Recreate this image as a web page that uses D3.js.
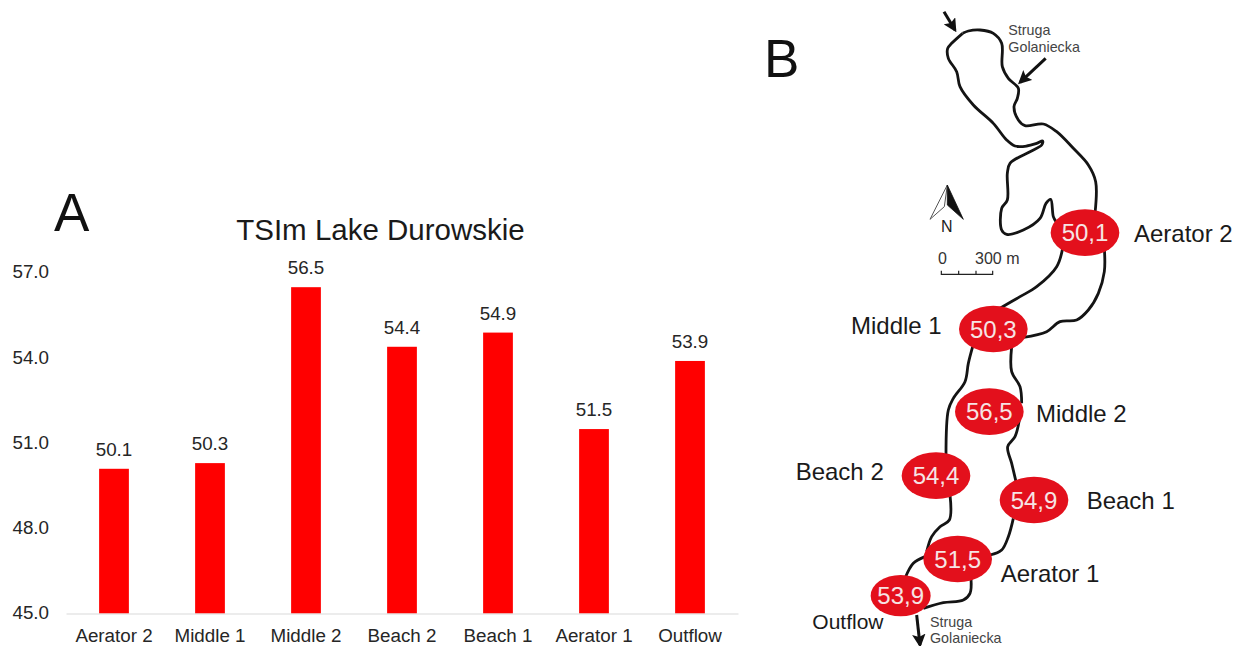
<!DOCTYPE html>
<html>
<head>
<meta charset="utf-8">
<script src="https://cdn.jsdelivr.net/npm/d3@7"></script>
<style>
  html, body { margin: 0; padding: 0; background: #fff; }
  svg { display: block; }
  text { font-family: "Liberation Sans", Arial, sans-serif; }
</style>
</head>
<body>
<div id="chart"></div>
<script>
// chart values
var categories = ["Aerator 2", "Middle 1", "Middle 2", "Beach 2", "Beach 1", "Aerator 1", "Outflow"];
var tsiValues = [50.1, 50.3, 56.5, 54.4, 54.9, 51.5, 53.9];
var yTicks = [45, 48, 51, 54, 57];

// map of the lake, traced in a grid of 1/3 px
var shoreNorth = [[608,100],[575,130],[563,145],[565,175],[590,215],[600,260],[640,315],[700,370],[740,420],[765,438],[800,438],[830,430],[848,423],[845,435],[810,455],[750,490],[742,520],[742,600],[725,625],[725,690],[740,703],[790,690],[840,655],[858,610],[872,598],[880,650],[888,665]];
var shoreEast = [[608,100],[625,93],[660,90],[700,100],[725,130],[727,200],[745,235],[775,265],[772,295],[762,320],[775,360],[795,377],[850,372],[890,395],[940,445],[985,495],[1007,545],[1005,640]];
var shoreMidRight = [[1033,745],[1033,815],[1015,880],[985,930],[950,960],[900,965],[860,995],[790,1012]];
var shoreMidLeft = [[908,745],[890,800],[830,860],[780,890],[720,925]];
var shoreWest1 = [[638,1040],[625,1090],[615,1145],[580,1195],[565,1230],[558,1365]];
var shoreEast1 = [[755,1040],[755,1115],[780,1160],[785,1210]];
var shoreEast2 = [[778,1260],[765,1310],[743,1340],[755,1390],[768,1445]];
var shoreWest2 = [[570,1485],[568,1560],[540,1580],[515,1610],[500,1655]];
var shoreWest3 = [[495,1670],[460,1690],[435,1735]];
var shoreEast3 = [[760,1555],[745,1610],[725,1650],[690,1665]];
var shoreSouth = [[633,1735],[630,1780],[610,1800],[550,1808],[490,1825]];
var shores = [shoreNorth, shoreEast, shoreMidRight, shoreMidLeft, shoreWest1, shoreEast1, shoreEast2, shoreWest2, shoreWest3, shoreEast3, shoreSouth];

var stationNames = ["Aerator 2", "Middle 1", "Middle 2", "Beach 2", "Beach 1", "Aerator 1", "Outflow"];
var stationLabels = ["50,1", "50,3", "56,5", "54,4", "54,9", "51,5", "53,9"];
var stationX = [975, 700, 688, 528, 822, 593, 422];
var stationY = [698, 987, 1235, 1427, 1500, 1677, 1787];
var stationRx = [103, 103, 103, 103, 103, 103, 90];
var stationRy = [70, 70, 70, 70, 70, 70, 62];
var nameX = [1122, 273, 828, 107, 980, 722, 157];
var nameY = [725, 1003, 1265, 1440, 1528, 1745, 1888];

var width = 1239, height = 646;
var svg = d3.select("#chart").append("svg")
    .attr("width", width)
    .attr("height", height);

// panel letters
svg.append("text").attr("x", 54).attr("y", 231).attr("font-size", 53).attr("fill", "#111").text("A");
svg.append("text").attr("x", 764).attr("y", 77).attr("font-size", 53).attr("fill", "#111").text("B");

// bar chart
function makeBarChart(){
    var x = d3.scaleBand()
        .domain(categories)
        .range([66, 738])
        .paddingInner(0.69)
        .paddingOuter(0.345);

    var y = d3.scaleLinear()
        .domain([45, 57])
        .range([613.5, 273]);

    svg.append("text")
        .attr("x", 380.5)
        .attr("y", 240)
        .attr("text-anchor", "middle")
        .attr("font-size", 29.5)
        .attr("fill", "#1a1a1a")
        .text("TSIm Lake Durowskie");

    var yAxis = svg.append("g")
        .attr("transform", "translate(66,0)")
        .call(d3.axisLeft(y).tickValues(yTicks).tickSize(0).tickPadding(17).tickFormat(d3.format(".1f")));
    yAxis.select(".domain").remove();
    yAxis.selectAll("text").attr("font-size", 18.8).attr("fill", "#262626").attr("dy", "0.26em");

    svg.selectAll("rect.bar")
        .data(tsiValues)
        .enter()
        .append("rect")
        .attr("class", "bar")
        .attr("x", function(d, i){ return x(categories[i]); })
        .attr("y", function(d){ return y(d); })
        .attr("width", x.bandwidth())
        .attr("height", function(d){ return y(45) - y(d); })
        .attr("fill", "#ff0000");

    var xAxis = svg.append("g")
        .attr("transform", "translate(0,613.5)")
        .call(d3.axisBottom(x).tickSize(0).tickPadding(15));
    xAxis.select(".domain").attr("stroke", "#d9d9d9").attr("stroke-width", 1.2);
    xAxis.selectAll("text").attr("font-size", 18.8).attr("fill", "#262626");

    svg.selectAll("text.value")
        .data(tsiValues)
        .enter()
        .append("text")
        .attr("class", "value")
        .attr("x", function(d, i){ return x(categories[i]) + x.bandwidth() / 2; })
        .attr("y", function(d){ return y(d) - 13; })
        .attr("text-anchor", "middle")
        .attr("font-size", 18.8)
        .attr("fill", "#262626")
        .text(function(d){ return d.toFixed(1); });
}

// lake map
function makeMap(){
    var mx = d3.scaleLinear().domain([0, 1437]).range([760, 1239]);
    var my = d3.scaleLinear().domain([0, 1938]).range([0, 646]);

    var line = d3.line()
        .x(function(d){ return mx(d[0]); })
        .y(function(d){ return my(d[1]); })
        .curve(d3.curveCatmullRom.alpha(0.5));

    svg.selectAll("path.shore")
        .data(shores)
        .enter()
        .append("path")
        .attr("class", "shore")
        .attr("d", line)
        .attr("fill", "none")
        .attr("stroke", "#141414")
        .attr("stroke-width", 2.8)
        .attr("stroke-linejoin", "round");

    // inflow and outflow arrows
    var defs = svg.append("defs");
    defs.append("marker")
        .attr("id", "head")
        .attr("viewBox", "0 0 10 10")
        .attr("refX", 8)
        .attr("refY", 5)
        .attr("markerWidth", 4.5)
        .attr("markerHeight", 4.5)
        .attr("orient", "auto")
        .append("path")
        .attr("d", "M0,0L10,5L0,10L2,5Z")
        .attr("fill", "#111");

    var arrows = [[[552,35],[585,90]], [[857,175],[780,247]], [[470,1845],[480,1935]]];
    svg.selectAll("line.arrow")
        .data(arrows)
        .enter()
        .append("line")
        .attr("class", "arrow")
        .attr("x1", function(d){ return mx(d[0][0]); })
        .attr("y1", function(d){ return my(d[0][1]); })
        .attr("x2", function(d){ return mx(d[1][0]); })
        .attr("y2", function(d){ return my(d[1][1]); })
        .attr("stroke", "#111")
        .attr("stroke-width", 3)
        .attr("marker-end", "url(#head)");

    // north arrow
    var northLeft = [[562,555],[510,658],[553,620]];
    var northRight = [[562,555],[610,658],[562,615]];
    var poly = d3.line()
        .x(function(d){ return mx(d[0]); })
        .y(function(d){ return my(d[1]); });
    svg.append("path").attr("d", poly(northLeft) + "Z").attr("fill", "#fff").attr("stroke", "#555").attr("stroke-width", 1);
    svg.append("path").attr("d", poly(northRight) + "Z").attr("fill", "#111").attr("stroke", "#111").attr("stroke-width", 0.8);
    svg.append("text").attr("x", mx(560)).attr("y", my(695)).attr("text-anchor", "middle")
        .attr("font-size", 16).attr("fill", "#222").text("N");

    // scale bar
    var scaleBar = [[544,812],[544,823],[596,823],[596,812],[596,823],[648,823],[648,812],[648,823],[698,823],[698,812]];
    svg.append("path").attr("d", poly(scaleBar)).attr("fill", "none").attr("stroke", "#222").attr("stroke-width", 1.2);
    svg.append("text").attr("x", mx(547)).attr("y", my(792)).attr("text-anchor", "middle")
        .attr("font-size", 16).attr("fill", "#333").text("0");
    svg.append("text").attr("x", mx(645)).attr("y", my(792))
        .attr("font-size", 16).attr("fill", "#333").text("300 m");

    // river names
    var riverX = [745, 745, 510, 510];
    var riverY = [105, 157, 1880, 1930];
    var riverText = ["Struga", "Golaniecka", "Struga", "Golaniecka"];
    svg.selectAll("text.river")
        .data(riverText)
        .enter()
        .append("text")
        .attr("class", "river")
        .attr("x", function(d, i){ return mx(riverX[i]); })
        .attr("y", function(d, i){ return my(riverY[i]); })
        .attr("font-size", 14.3)
        .attr("fill", "#444")
        .text(function(d){ return d; });

    // stations
    var st = svg.selectAll("g.station")
        .data(stationLabels)
        .enter()
        .append("g")
        .attr("class", "station");

    st.append("ellipse")
        .attr("cx", function(d, i){ return mx(stationX[i]); })
        .attr("cy", function(d, i){ return my(stationY[i]); })
        .attr("rx", function(d, i){ return mx(stationRx[i]) - mx(0); })
        .attr("ry", function(d, i){ return my(stationRy[i]) - my(0); })
        .attr("fill", "#e3101c");

    st.append("text")
        .attr("x", function(d, i){ return mx(stationX[i]); })
        .attr("y", function(d, i){ return my(stationY[i]) + 8.5; })
        .attr("text-anchor", "middle")
        .attr("font-size", 24)
        .attr("fill", "#f6e4e4")
        .text(function(d){ return d; });

    svg.selectAll("text.name")
        .data(stationNames)
        .enter()
        .append("text")
        .attr("class", "name")
        .attr("x", function(d, i){ return mx(nameX[i]); })
        .attr("y", function(d, i){ return my(nameY[i]); })
        .attr("font-size", function(d){ return d == "Outflow" ? 21 : 24; })
        .attr("fill", "#1a1a1a")
        .text(function(d){ return d; });
}

makeBarChart();
makeMap();
</script>
</body>
</html>
